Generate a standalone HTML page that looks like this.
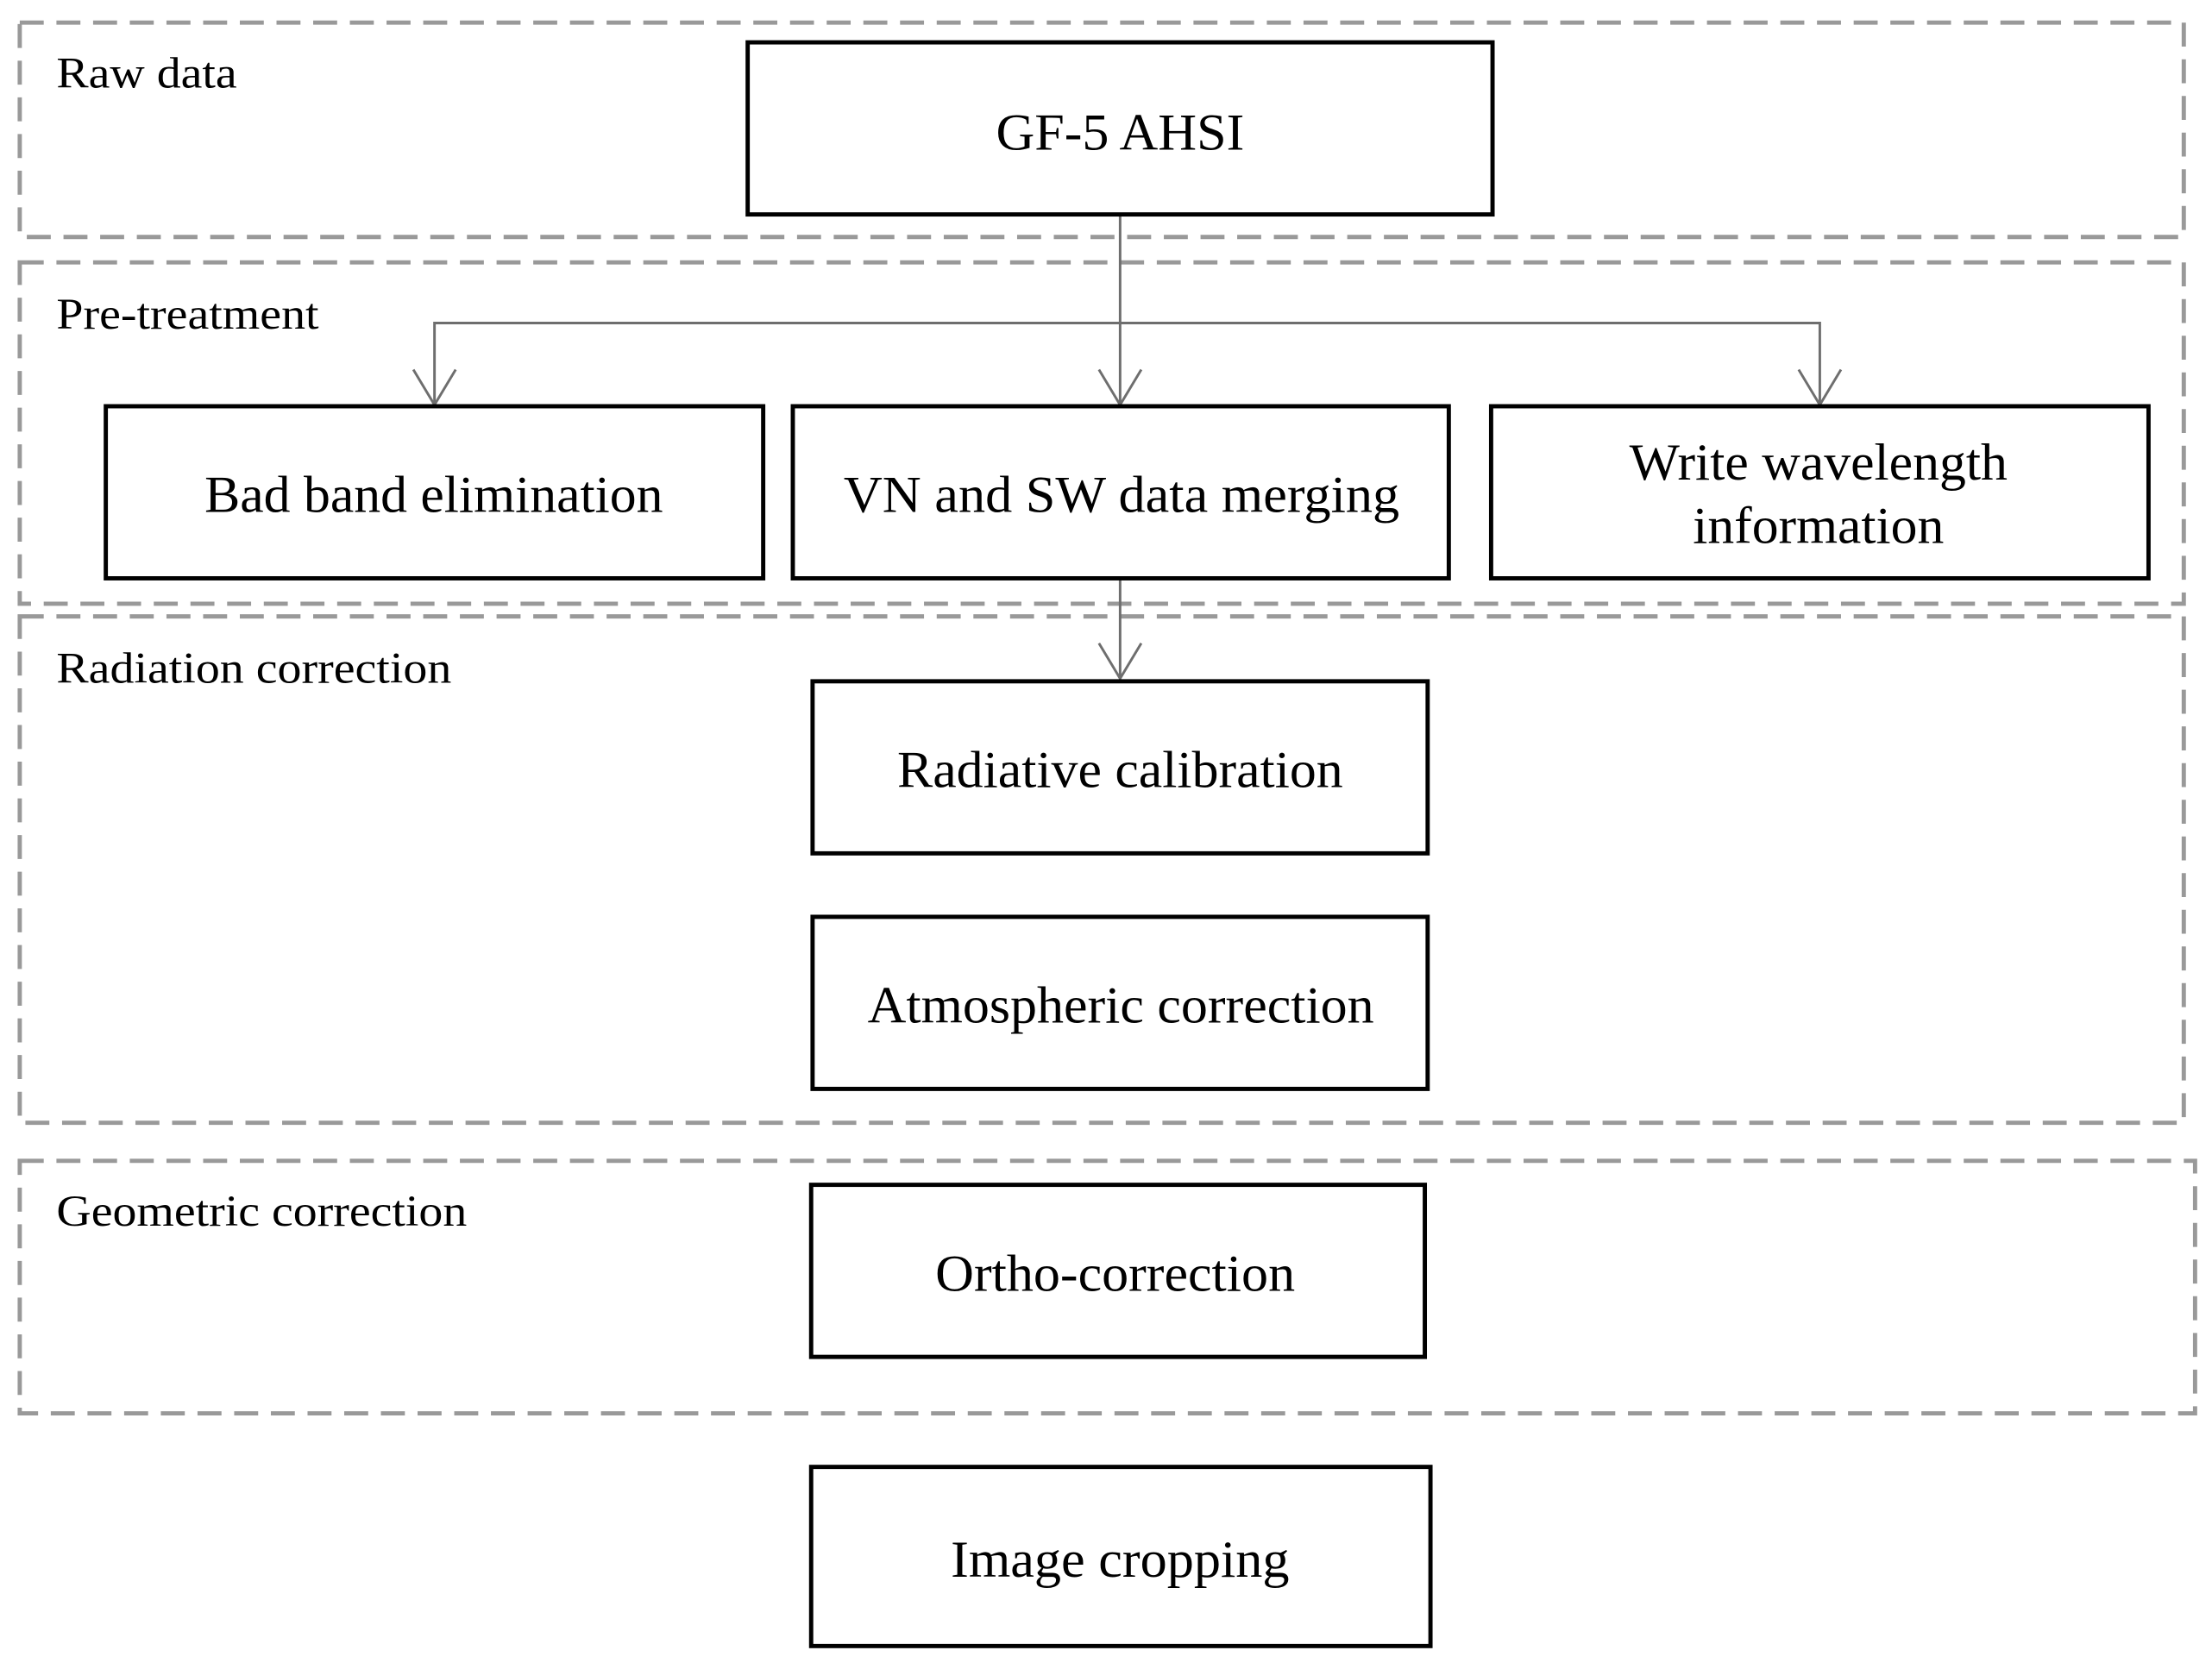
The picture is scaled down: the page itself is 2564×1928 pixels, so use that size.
<!DOCTYPE html>
<html><head><meta charset="utf-8"><style>html,body{margin:0;padding:0;background:#fff}svg{display:block}</style></head>
<body>
<svg width="2564" height="1928" viewBox="0 0 1568 1179" xmlns="http://www.w3.org/2000/svg" font-family="Liberation Serif, serif">
<g fill="none" stroke="#999" stroke-width="3" stroke-dasharray="17 9">
<rect x="14" y="16" width="1534" height="152"/>
<rect x="14" y="186" width="1534" height="242"/>
<rect x="14" y="437" width="1534" height="359"/>
<rect x="14" y="823" width="1542" height="179"/>
</g>
<g stroke="#6e6e6e" stroke-width="1.8" fill="none">
<path d="M794 152V287M308 287V229H1290V287M794 410V481"/>
<path d="M293 262L308 287L323 262M779 262L794 287L809 262M1275 262L1290 287L1305 262M779 456L794 481L809 456"/>
</g>
<g fill="#fff" stroke="#000" stroke-width="3">
<rect x="530" y="30" width="528" height="122"/>
<rect x="75" y="288" width="466" height="122"/>
<rect x="562" y="288" width="465" height="122"/>
<rect x="1057" y="288" width="466" height="122"/>
<rect x="576" y="483" width="436" height="122"/>
<rect x="576" y="650" width="436" height="122"/>
<rect x="575" y="840" width="435" height="122"/>
<rect x="575" y="1040" width="439" height="127"/>
</g>
<g font-size="31" fill="#000">
<text x="40" y="62" textLength="128" lengthAdjust="spacingAndGlyphs">Raw data</text>
<text x="40" y="233" textLength="186" lengthAdjust="spacingAndGlyphs">Pre-treatment</text>
<text x="40" y="484" textLength="280" lengthAdjust="spacingAndGlyphs">Radiation correction</text>
<text x="40" y="869" textLength="291" lengthAdjust="spacingAndGlyphs">Geometric correction</text>
</g>
<g font-size="37" fill="#000">
<text x="706" y="106" textLength="176" lengthAdjust="spacingAndGlyphs">GF-5 AHSI</text>
<text x="145" y="363" textLength="325" lengthAdjust="spacingAndGlyphs">Bad band elimination</text>
<text x="598" y="363" textLength="394" lengthAdjust="spacingAndGlyphs">VN and SW data merging</text>
<text x="1155" y="340" textLength="268" lengthAdjust="spacingAndGlyphs">Write wavelength</text>
<text x="1200" y="385" textLength="178" lengthAdjust="spacingAndGlyphs">information</text>
<text x="636" y="558" textLength="316" lengthAdjust="spacingAndGlyphs">Radiative calibration</text>
<text x="615" y="725" textLength="359" lengthAdjust="spacingAndGlyphs">Atmospheric correction</text>
<text x="663" y="915" textLength="255" lengthAdjust="spacingAndGlyphs">Ortho-correction</text>
<text x="674" y="1118" textLength="240" lengthAdjust="spacingAndGlyphs">Image cropping</text>
</g>
</svg>
</body></html>
